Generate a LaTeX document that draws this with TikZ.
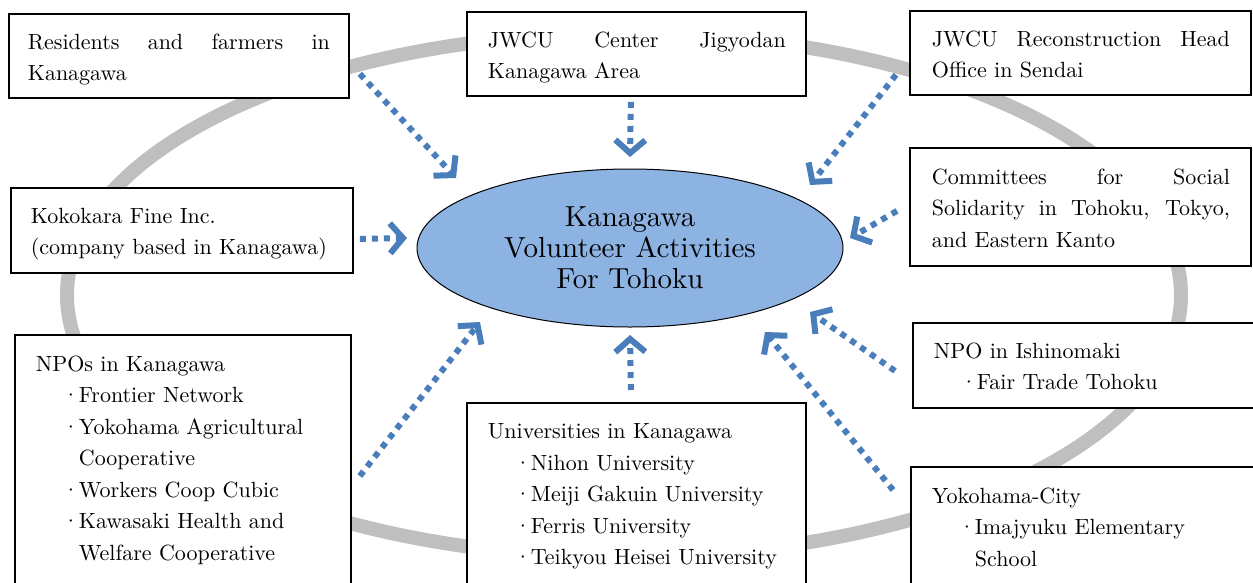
\documentclass[tikz,border=0pt]{standalone}
\usepackage{fontspec}
\setmainfont{lmroman10-regular.otf}
\usetikzlibrary{arrows.meta,shapes.geometric}

\definecolor{flowblue}{RGB}{74,126,187}
\definecolor{hubblue}{RGB}{141,179,226}
\definecolor{ringgray}{RGB}{191,191,191}

\newcommand{\itm}{\hspace*{27pt}\makebox[16pt][c]{\textperiodcentered}}
\newcommand{\cont}{\hspace*{43pt}}
\newcommand{\just}[2]{\makebox[#1][s]{\spaceskip=0pt\xspaceskip=0pt\relax #2}}
\newcommand{\boxtext}[3]{\parbox[t][#2][t]{#1}{\raggedright #3}}

\tikzset{
  box/.style={draw, line width=1.8pt, fill=white, anchor=north west,
    inner ysep=20pt, font=\fontsize{22}{31.5}\selectfont},
  hub/.style={ellipse, draw, line width=1pt, fill=hubblue,
    minimum width=426, minimum height=158, align=center,
    font=\fontsize{29}{31}\selectfont},
  ring/.style={draw=ringgray, line width=14pt},
  flow/.style={draw=flowblue, line width=6pt, dash pattern=on 6pt off 6pt,
    -{Straight Barb[length=13pt,width=30pt]}}
}

\begin{document}
\begin{tikzpicture}[x=1pt,y=-1pt]
  \useasboundingbox (0,0) rectangle (1253,582);

  % ring behind everything
  \draw[ring] (624,295) ellipse [x radius=557, y radius=262];

  % partner boxes
  \node[box, minimum width=340, inner xsep=19] (res) at (8,13)
    {\boxtext{302pt}{44pt}{\just{302pt}{Residents and farmers in}\\Kanagawa}};
  \node[box, minimum width=339, inner xsep=21] (jwc) at (466,11)
    {\boxtext{297pt}{44pt}{\just{298pt}{JWCU Center Jigyodan}\\Kanagawa Area}};
  \node[box, minimum width=341, inner xsep=22] (hq) at (909,10)
    {\boxtext{297pt}{44pt}{\just{298pt}{JWCU Reconstruction Head}\\Office in Sendai}};
  \node[box, minimum width=342, inner xsep=20] (koko) at (10,187)
    {\boxtext{302pt}{45pt}{Kokokara Fine Inc.\\(company based in Kanagawa)}};
  \node[box, minimum width=341, inner xsep=22, inner ysep=21] (com) at (909,147)
    {\boxtext{297pt}{76pt}{\just{298pt}{Committees for Social}\\
      \just{298pt}{Solidarity in Tohoku, Tokyo,}\\and Eastern Kanto}};
  \node[box, minimum width=360, inner xsep=21] (ishi) at (912,322)
    {\boxtext{318pt}{45pt}{NPO in Ishinomaki\\\itm Fair Trade Tohoku}};
  \node[box, minimum width=336, inner xsep=21, inner ysep=21] (npo) at (14,334)
    {\boxtext{294pt}{260pt}{NPOs in Kanagawa\\
      \itm Frontier Network\\
      \itm Yokohama Agricultural\\
      \cont Cooperative\\
      \itm Workers Coop Cubic\\
      \itm Kawasaki Health and\\
      \cont Welfare Cooperative}};
  \node[box, minimum width=339, inner xsep=21, inner ysep=21] (uni) at (466,402)
    {\boxtext{297pt}{200pt}{Universities in Kanagawa\\
      \itm Nihon University\\
      \itm Meiji Gakuin University\\
      \itm Ferris University\\
      \itm Teikyou Heisei University}};
  \node[box, minimum width=360, inner xsep=21, inner ysep=21] (yoko) at (910,466)
    {\boxtext{318pt}{140pt}{Yokohama-City\\
      \itm Imajyuku Elementary\\
      \cont School}};

  % centre
  \node[hub] (hub) at (630,248) {Kanagawa\\Volunteer Activities\\For Tohoku};

  % arrow tips round the hub
  \coordinate (t1) at (456,178);
  \coordinate (t2) at (630,157);
  \coordinate (t3) at (810,185);
  \coordinate (t4) at (407,238);
  \coordinate (t5) at (850,238);
  \coordinate (t6) at (480,322);
  \coordinate (t7) at (630,335);
  \coordinate (t8) at (810,312);
  \coordinate (t9) at (765,332);

  \draw[flow] ([shift={(10,18)}]res.east) -- (t1);
  \draw[flow] ([shift={(-5.5,5)}]jwc.south) -- (t2);
  \draw[flow] ([shift={(-13,-21)}]hq.south west) -- (t3);
  \draw[flow] ([shift={(6,8.5)}]koko.east) -- (t4);
  \draw[flow] ([shift={(-12,4)}]com.west) -- (t5);
  \draw[flow] ([shift={(8,142)}]npo.north east) -- (t6);
  \draw[flow] ([shift={(-5.5,-12)}]uni.north) -- (t7);
  \draw[flow] ([shift={(-17,5.5)}]ishi.west) -- (t8);
  \draw[flow] ([shift={(-17,24)}]yoko.north west) -- (t9);
\end{tikzpicture}
\end{document}
